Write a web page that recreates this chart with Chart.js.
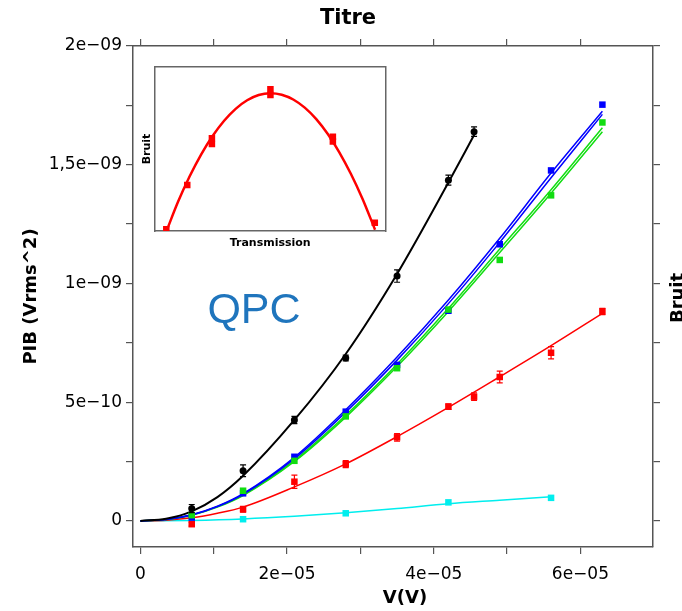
<!DOCTYPE html>
<html><head><meta charset="utf-8">
<script src="https://cdn.jsdelivr.net/npm/chart.js@4"></script>
<style>
body{margin:0;background:#fff}
#wrap{position:relative;width:682px;height:611px;overflow:hidden}
canvas{position:absolute;left:0;top:0}
</style>
</head><body>
<div id="wrap">
<canvas id="main" width="682" height="611"></canvas>
<canvas id="inset" width="250" height="190" style="left:140px;top:62px"></canvas>
</div>
<script>
// ---- Data (x in units of 1e-5 V, y in units of 1e-9 Vrms^2) ----
const X_UNIT = 1e-5, Y_UNIT = 1e-9;

const blackX = [0.7, 1.4, 2.1, 2.8, 3.5, 4.2, 4.55];
const blackY = [0.052, 0.211, 0.425, 0.686, 1.031, 1.435, 1.639];
const blackErr = [0.017, 0.025, 0.015, 0.012, 0.026, 0.021, 0.02];
const blackFitX = [0, 0.35, 0.7, 1.05, 1.4, 2.1, 2.8, 3.5, 4.2, 4.55];
const blackFitY = [0, 0.009, 0.04, 0.1, 0.19, 0.425, 0.703, 1.04, 1.425, 1.625];

const fullX = [0.7, 1.4, 2.1, 2.8, 3.5, 4.2, 4.9, 5.6, 6.3];
const blueY = [0.014, 0.116, 0.27, 0.46, 0.657, 0.885, 1.165, 1.476, 1.753];
const greenY = [0.024, 0.127, 0.253, 0.44, 0.643, 0.89, 1.099, 1.371, 1.678];

const fitX = [0, 0.35, 0.7, 1.05, 1.4, 2.1, 2.8, 3.5, 4.2, 4.9, 5.6, 6.3];
const blueFitA = [0, 0.006, 0.026, 0.062, 0.115, 0.268, 0.468, 0.69, 0.93, 1.19, 1.465, 1.725];
const blueFitB = [0, 0.006, 0.025, 0.06, 0.112, 0.262, 0.458, 0.677, 0.915, 1.173, 1.445, 1.712];
const greenFitA = [0, 0.006, 0.025, 0.06, 0.11, 0.255, 0.445, 0.66, 0.895, 1.145, 1.395, 1.656];
const greenFitB = [0, 0.006, 0.024, 0.058, 0.107, 0.25, 0.437, 0.65, 0.882, 1.13, 1.38, 1.639];

const redX = [0.7, 1.4, 2.1, 2.8, 3.5, 4.2, 4.55, 4.9, 5.6, 6.3];
const redY = [-0.014, 0.049, 0.165, 0.239, 0.352, 0.481, 0.523, 0.606, 0.708, 0.882];
const redErr = [0.008, 0.012, 0.028, 0.015, 0.016, 0.012, 0.016, 0.025, 0.026, 0.013];
const redFitY = [0, 0.003, 0.013, 0.032, 0.058, 0.143, 0.24, 0.355, 0.478, 0.607, 0.738, 0.874];

const cyanX = [1.4, 2.8, 4.2, 5.6];
const cyanY = [0.007, 0.032, 0.078, 0.097];
const cyanFitX = [0, 0.7, 1.4, 2.1, 2.8, 3.5, 4.2, 4.9, 5.6];
const cyanFitY = [0, 0.002, 0.008, 0.019, 0.034, 0.052, 0.072, 0.087, 0.102];

// Inset (normalised transmission / noise)
const insetPtX = [0.049, 0.14, 0.247, 0.247, 0.501, 0.501, 0.772, 0.772, 0.954];
const insetPtY = [0.01, 0.28, 0.565, 0.53, 0.865, 0.83, 0.575, 0.545, 0.05];
const insetFitX = [0.05, 0.1, 0.15, 0.2, 0.25, 0.3, 0.35, 0.4, 0.45, 0.5, 0.55, 0.6, 0.65, 0.7, 0.75, 0.8, 0.85, 0.9, 0.955];
const insetFitY = [0.0, 0.178, 0.332, 0.466, 0.579, 0.672, 0.745, 0.797, 0.829, 0.84, 0.831, 0.802, 0.752, 0.682, 0.591, 0.48, 0.349, 0.198, 0.008];

// Axis settings
const xMin = -0.101, xMax = 6.99, xStep = 1;       // ×1e-5
const yMin = -0.11, yMax = 2.0, yStep = 0.25;      // ×1e-9

// ---- helpers ----
const pts = (xs, ys, sx, sy) => xs.map((v, i) => ({x: v * sx, y: ys[i] * sy}));
function sci(v){
  if (Math.abs(v) < 1e-20) return '0';
  let e = Math.floor(Math.log10(Math.abs(v)));
  let m = Math.round(v / Math.pow(10, e) * 10) / 10;
  if (Math.abs(m) >= 10) { m /= 10; e += 1; }
  const ms = String(m).replace('.', ',');
  const es = String(Math.abs(e)).padStart(2, '0');
  return ms + 'e' + (e < 0 ? '\u2212' : '+') + es;
}

const AX = '#555';
const FONT = "'DejaVu Sans', Verdana, sans-serif";

const errorBars = {
  id: 'errorBars',
  afterDatasetsDraw(chart){
    const {ctx} = chart; const x = chart.scales.x, y = chart.scales.y;
    chart.data.datasets.forEach((ds, i) => {
      if (!ds.errors) return;
      ctx.save();
      ctx.strokeStyle = ds.borderColor; ctx.lineWidth = 1.2;
      ds.data.forEach((p, j) => {
        const e = ds.errors[j]; if (!e) return;
        const px = x.getPixelForValue(p.x);
        const t = y.getPixelForValue(p.y + e), b = y.getPixelForValue(p.y - e);
        ctx.beginPath();
        ctx.moveTo(px, t); ctx.lineTo(px, b);
        ctx.moveTo(px - 3, t); ctx.lineTo(px + 3, t);
        ctx.moveTo(px - 3, b); ctx.lineTo(px + 3, b);
        ctx.stroke();
      });
      ctx.restore();
    });
  }
};

const texts = {
  id: 'texts',
  afterDraw(chart){
    const ctx = chart.ctx;
    ctx.save();
    ctx.fillStyle = '#1f75bd';
    ctx.font = "43px 'Liberation Sans', Arial, sans-serif";
    ctx.textAlign = 'center'; ctx.textBaseline = 'alphabetic';
    ctx.fillText('QPC', 254, 323);
    ctx.fillStyle = '#000';
    ctx.font = "bold 21px " + FONT;
    ctx.textBaseline = 'middle';
    ctx.fillText('Titre', 348, 19);
    ctx.font = "bold 18px " + FONT;
    ctx.fillText('V(V)', 405, 598);
    ctx.translate(678, 298); ctx.rotate(-Math.PI / 2);
    ctx.fillText('Bruit', 0, 0);
    ctx.restore();
  }
};

function fitDs(xs, ys, color, w){
  return {data: pts(xs, ys, X_UNIT, Y_UNIT), showLine: true, borderColor: color, borderWidth: w || 1.5,
    pointRadius: 0, cubicInterpolationMode: 'monotone', order: 2};
}
function ptDs(xs, ys, color, style, r, errs){
  return {data: pts(xs, ys, X_UNIT, Y_UNIT), showLine: false, borderColor: color, backgroundColor: color,
    pointStyle: style, pointRadius: r, pointBorderWidth: 0, order: 1,
    errors: errs ? errs.map(e => e * Y_UNIT) : null};
}

const gridOpts = {display: true, drawOnChartArea: false, drawTicks: true, tickLength: 7, color: AX, lineWidth: 1.2};
const borderOpts = {display: true, color: AX, width: 1.5};

new Chart(document.getElementById('main'), {
  type: 'scatter',
  data: {datasets: [
    fitDs(blackFitX, blackFitY, '#000000', 2),
    fitDs(fitX, blueFitA, '#0000ff'),
    fitDs(fitX, blueFitB, '#0000ff'),
    fitDs(fitX, greenFitA, '#11dd11'),
    fitDs(fitX, greenFitB, '#11dd11'),
    fitDs(fitX, redFitY, '#ff0000'),
    fitDs(cyanFitX, cyanFitY, '#00eeee'),
    ptDs(blackX, blackY, '#000000', 'circle', 3.5, blackErr),
    ptDs(fullX, greenY, '#11dd11', 'rect', 4.6),
    ptDs(fullX, blueY, '#0000ff', 'rect', 4.6),
    ptDs(redX, redY, '#ff0000', 'rect', 4.6, redErr),
    ptDs(cyanX, cyanY, '#00eeee', 'rect', 4.6)
  ]},
  options: {
    responsive: false, animation: false,
    layout: {padding: {top: 31}},
    plugins: {
      legend: {display: false}, tooltip: {enabled: false}, title: {display: false}
    },
    scales: {
      x: {type: 'linear', position: 'bottom', min: xMin * X_UNIT, max: xMax * X_UNIT,
        grid: gridOpts, border: borderOpts,
        ticks: {stepSize: xStep * X_UNIT, includeBounds: false, color: '#000', padding: 10, maxRotation: 0, autoSkip: false,
          font: {family: FONT, size: 17},
          callback: v => (Math.round(v / X_UNIT) % 2 === 0 ? sci(v) : '')},
        afterFit: s => { s.height = 64; }
      },
      x2: {type: 'linear', position: 'top', min: xMin * X_UNIT, max: xMax * X_UNIT,
        grid: gridOpts, border: borderOpts,
        ticks: {display: false, stepSize: xStep * X_UNIT, includeBounds: false},
        afterFit: s => { s.height = 15; }
      },
      y: {type: 'linear', position: 'left', min: yMin * Y_UNIT, max: yMax * Y_UNIT,
        grid: gridOpts, border: borderOpts,
        title: {display: true, text: 'PIB (Vrms^2)', color: '#000', font: {family: FONT, size: 18, weight: 'bold', lineHeight: 1.2}, padding: {top: 21, bottom: 0}},
        ticks: {stepSize: yStep * Y_UNIT, includeBounds: false, color: '#000', padding: 4, autoSkip: false,
          font: {family: FONT, size: 17},
          callback: v => (Math.round(v / (yStep * Y_UNIT)) % 2 === 0 ? sci(v) : '')},
        afterFit: s => { s.width = 133; }
      },
      y2: {type: 'linear', position: 'right', min: yMin * Y_UNIT, max: yMax * Y_UNIT,
        grid: gridOpts, border: borderOpts,
        ticks: {display: false, stepSize: yStep * Y_UNIT, includeBounds: false},
        afterFit: s => { s.width = 29; }
      }
    }
  },
  plugins: [errorBars, texts]
});

// ---- Inset ----
const insetBorder = {display: true, color: '#666', width: 1.5};
new Chart(document.getElementById('inset'), {
  type: 'scatter',
  data: {datasets: [
    {data: pts(insetFitX, insetFitY, 1, 1), showLine: true, borderColor: '#ff0000', borderWidth: 2.5,
      pointRadius: 0, cubicInterpolationMode: 'monotone', order: 2},
    {data: pts(insetPtX, insetPtY, 1, 1), showLine: false, backgroundColor: '#ff0000', borderColor: '#ff0000',
      pointStyle: 'rect', pointRadius: 4.6, pointBorderWidth: 0, order: 1}
  ]},
  options: {
    responsive: false, animation: false, layout: {padding: 0},
    plugins: {legend: {display: false}, tooltip: {enabled: false}},
    scales: {
      x: {type: 'linear', position: 'bottom', min: 0, max: 1,
        grid: {display: false}, border: insetBorder, ticks: {display: false},
        title: {display: true, text: 'Transmission', color: '#000', font: {family: FONT, size: 11, weight: 'bold', lineHeight: 1.2}, padding: {top: 0, bottom: 2.4}},
        afterFit: s => { s.height = 21; }
      },
      x2: {type: 'linear', position: 'top', min: 0, max: 1,
        grid: {display: false}, border: insetBorder, ticks: {display: false},
        afterFit: s => { s.height = 5; }
      },
      y: {type: 'linear', position: 'left', min: 0, max: 1,
        grid: {display: false}, border: insetBorder, ticks: {display: false},
        title: {display: true, text: 'Bruit', color: '#000', font: {family: FONT, size: 11, weight: 'bold', lineHeight: 1.2}, padding: {top: 0.6, bottom: 0}},
        afterFit: s => { s.width = 15; }
      },
      y2: {type: 'linear', position: 'right', min: 0, max: 1,
        grid: {display: false}, border: insetBorder, ticks: {display: false},
        afterFit: s => { s.width = 4; }
      }
    }
  }
});
</script>
</body></html>
